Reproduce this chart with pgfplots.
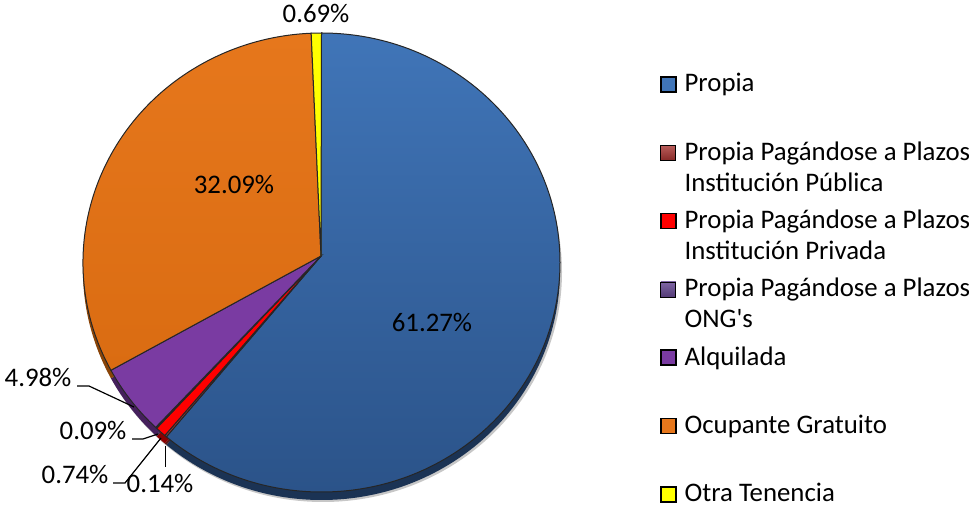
\documentclass[border=0pt]{standalone}
\usepackage{fontspec}
\setmainfont{Carlito}
\newfontfamily\plainfont{Carlito}
\usepackage{pgfplots}
\usepackage{pgfplotstable}
\pgfplotsset{compat=1.18}

\definecolor{propiaT}{HTML}{4075B8}
\definecolor{propiaB}{HTML}{2B5389}
\definecolor{propiaR}{HTML}{1B3354}
\definecolor{publicaC}{HTML}{A83431}
\definecolor{publicaR}{HTML}{5A1A18}
\definecolor{privadaC}{HTML}{FF0000}
\definecolor{privadaR}{HTML}{8A0000}
\definecolor{ongC}{HTML}{684A94}
\definecolor{ongR}{HTML}{3A2A55}
\definecolor{alqC}{HTML}{7A3BA2}
\definecolor{alqR}{HTML}{45205C}
\definecolor{ocupT}{HTML}{E6771C}
\definecolor{ocupB}{HTML}{DA6C12}
\definecolor{ocupR}{HTML}{8A4408}
\definecolor{otraC}{HTML}{FFFF00}
\definecolor{otraR}{HTML}{8A8A00}

% share of each tenure type, in %
\pgfplotstableread{
key value
Propia 61.27
Publica 0.14
Privada 0.74
ONG 0.09
Alquilada 4.98
Ocupante 32.09
Otra 0.69
}\tenencia

\pgfplotsset{
  legend image code/.code={\draw[#1] (0pt,0pt) rectangle (7.5pt,7.5pt);},
}

% one sector: #1 row, #2 style, #3 vertical shift (pixels)
\newcommand\slice[3]{%
  \path[#2] (axis cs:321,{252+#3})
    -- (axis cs:{321.5+238.5*cos(\csname angA#1\endcsname)},{245.5+#3+229.5*sin(\csname angA#1\endcsname)})
    arc[start angle=\csname angA#1\endcsname, end angle=\csname angB#1\endcsname,
        x radius=119.25pt, y radius=114.75pt] -- cycle;}

\begin{document}
\begin{tikzpicture}[font=\fontsize{13.4}{15.5}\selectfont]
% start and end angle of each row: clockwise from 12 o'clock
\xdef\cum{0}
\foreach \i in {0,...,6}{%
  \pgfplotstablegetelem{\i}{value}\of\tenencia
  \let\v\pgfplotsretval
  \pgfmathsetmacro\a{90-3.6*\cum}%
  \pgfmathsetmacro\b{90-3.6*(\cum+\v)}%
  \pgfmathsetmacro\c{\cum+\v}%
  \expandafter\xdef\csname angA\i\endcsname{\a}%
  \expandafter\xdef\csname angB\i\endcsname{\b}%
  \xdef\cum{\c}%
}
\begin{axis}[
    x=0.5pt, y=0.5pt,
    xmin=0, xmax=969, ymin=0, ymax=508,
    hide axis, clip=false,
    legend style={
      at={(axis cs:660,436)}, anchor=north west,
      draw=none, fill=none, inner sep=0pt, outer sep=0pt,
      font=\fontsize{13.4}{15.5}\selectfont,
      /tikz/column sep=4pt, /tikz/row sep=0pt,
      cells={anchor=base west},
      nodes={inner sep=0pt, outer sep=0pt, text height=10pt, text depth=24.15pt},
    },
  ]
  % shadow and rim
  \fill[black!22] (axis cs:323,236) ellipse [x radius=119.5pt, y radius=115pt];
  \slice{0}{fill=propiaR}{-8}
  \slice{1}{fill=publicaR}{-8}
  \slice{2}{fill=privadaR}{-8}
  \slice{3}{fill=ongR}{-8}
  \slice{4}{fill=alqR}{-8}
  \slice{5}{fill=ocupR}{-8}
  \slice{6}{fill=otraR}{-8}
  % faces
  \slice{0}{top color=propiaT, bottom color=propiaB, draw=black!85, line width=0.5pt}{0}
  \slice{1}{fill=publicaC, draw=black!85, line width=0.5pt}{0}
  \slice{2}{fill=privadaC, draw=black!85, line width=0.5pt}{0}
  \slice{3}{fill=ongC, draw=black!85, line width=0.5pt}{0}
  \slice{4}{fill=alqC, draw=black!85, line width=0.5pt}{0}
  \slice{5}{top color=ocupT, bottom color=ocupB, draw=black!85, line width=0.5pt}{0}
  \slice{6}{fill=otraC, draw=black!85, line width=0.5pt}{0}

  % data labels
  \node[anchor=base] at (axis cs:432,176) {61.27\%};
  \node[anchor=base] at (axis cs:234,314) {32.09\%};
  \node[anchor=base] at (axis cs:316,485) {0.69\%};
  \node[anchor=base] at (axis cs:38,121) {4.98\%};
  \node[anchor=base] at (axis cs:93,68) {0.09\%};
  \node[anchor=base] at (axis cs:75,25) {0.74\%};
  \node[anchor=base] at (axis cs:160,15) {0.14\%};
  \draw[line width=0.6pt] (axis cs:77,122) -- (axis cs:89,122) -- (axis cs:134,101);
  \draw[line width=0.6pt] (axis cs:132,69) -- (axis cs:143,69) -- (axis cs:158,74);
  \draw[line width=0.6pt] (axis cs:113,25) -- (axis cs:125,25) -- (axis cs:161,70);
  \draw[line width=0.6pt] (axis cs:165.5,62) -- (axis cs:165.5,41);

  % legend
  \addlegendimage{fill=propiaT, draw=black, line width=0.8pt}
  \addlegendentry{Propia}
  \addlegendimage{top color=publicaC!80!white, bottom color=publicaC!80!black, draw=none}
  \addlegendentry{\parbox[t]{150pt}{Propia Pagándose a Plazos\\Institución Pública}}
  \addlegendimage{fill=privadaC, draw=black, line width=0.8pt}
  \addlegendentry{\parbox[t]{150pt}{Propia Pagándose a Plazos\\Institución Privada}}
  \addlegendimage{top color=ongC!85!white, bottom color=ongC!80!black, draw=none}
  \addlegendentry{\parbox[t]{150pt}{Propia Pagándose a Plazos\\ONG{\plainfont'}s}}
  \addlegendimage{fill=alqC, draw=black, line width=0.8pt}
  \addlegendentry{Alquilada}
  \addlegendimage{fill=ocupT, draw=black, line width=0.8pt}
  \addlegendentry{Ocupante Gratuito}
  \addlegendimage{fill=otraC, draw=black, line width=0.8pt}
  \addlegendentry{Otra Tenencia}
\end{axis}
\pgfresetboundingbox
\useasboundingbox (current axis.south west) rectangle (current axis.north east);
\end{tikzpicture}
\end{document}
